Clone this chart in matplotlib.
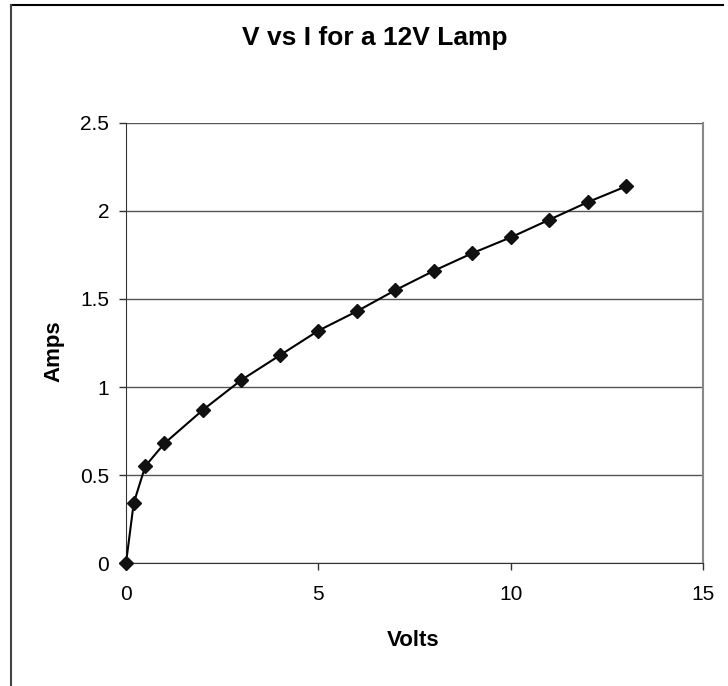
import matplotlib.pyplot as plt
from matplotlib.lines import Line2D

# data
volts = [0, 0.2, 0.5, 1, 2, 3, 4, 5, 6, 7, 8, 9, 10, 11, 12, 13]
amps = [0, 0.34, 0.55, 0.68, 0.87, 1.04, 1.18, 1.32, 1.43, 1.55, 1.66, 1.76, 1.85, 1.95, 2.05, 2.14]
x_ticks = [0, 5, 10, 15]
y_ticks = [0, 0.5, 1, 1.5, 2, 2.5]

plt.rcParams['font.family'] = ['Liberation Sans', 'DejaVu Sans']

fig = plt.figure(figsize=(7.28, 6.86), dpi=100)
ax = fig.add_axes([0.1731, 0.1793, 0.7926, 0.6414])

ax.plot(volts, amps, color='black', lw=1.5, marker='D', ms=7, mfc='#111111', mec='#111111', zorder=3, clip_on=False)

ax.set_xlim(0, 15)
ax.set_ylim(0, 2.5)
ax.set_xticks(x_ticks)
ax.set_yticks(y_ticks)
ax.set_xticklabels([str(t) for t in x_ticks])
ax.set_yticklabels(['0', '0.5', '1', '1.5', '2', '2.5'])
ax.tick_params(direction='out', length=5, width=1, colors='#333333', labelsize=15, labelcolor='black')
ax.tick_params(axis='y', pad=7)
ax.tick_params(axis='x', pad=11)

# horizontal gridlines
ax.yaxis.grid(True, color='#555555', lw=1)
ax.set_axisbelow(True)

ax.spines['left'].set_color('#333333')
ax.spines['bottom'].set_color('#333333')
ax.spines['top'].set_visible(False)
ax.spines['right'].set_color('#888888')
ax.spines['right'].set_linewidth(1.5)

fig.text(0.515, 0.944, 'V vs I for a 12V Lamp', ha='center', va='center', fontsize=19, fontweight='bold')
fig.text(0.568, 0.0656, 'Volts', ha='center', va='center', fontsize=16, fontweight='bold')
fig.text(0.074, 0.488, 'Amps', ha='center', va='center', fontsize=16, fontweight='bold', rotation=90)

# outer chart border (only top and left visible)
fig.add_artist(Line2D([11/728, 723/728], [1 - 5/686, 1 - 5/686], color='black', lw=1.5))
fig.add_artist(Line2D([11/728, 11/728], [1 - 5/686, 0], color='#444444', lw=1.5))

fig.savefig('out.png', dpi=100)
